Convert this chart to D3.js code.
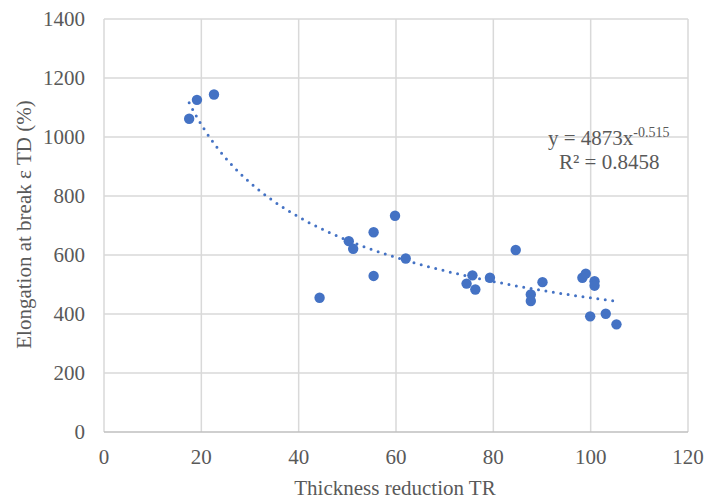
<!DOCTYPE html>
<html><head><meta charset="utf-8">
<script src="https://cdn.jsdelivr.net/npm/d3@7"></script>
<style>body{margin:0;background:#fff}svg{display:block}</style>
</head><body>
<svg id="c" width="705" height="502"></svg>
<script>
const xValues = [17.5,19.1,22.6,44.3,50.3,51.2,55.4,55.4,59.8,62.0,74.5,75.7,76.3,79.3,84.6,87.7,87.7,90.1,98.3,99.0,100.8,100.8,99.9,103.1,105.3];
const yValues = [1062,1126,1144,455,647,621,677,529,733,588,503,531,483,523,617,466,444,508,523,537,511,496,392,401,365];
const xTicks = [0,20,40,60,80,100,120];
const yTicks = [0,200,400,600,800,1000,1200,1400];
const fitA = 4873, fitB = -0.515;
const fitRange = [17.5, 104.7];
const eqText = "y = 4873x", eqExp = "-0.515", r2Text = "R² = 0.8458";

const svg = d3.select("#c");
const L = 104, R = 688, T = 19, B = 432;
const x = d3.scaleLinear().domain([0,120]).range([L,R]);
const y = d3.scaleLinear().domain([0,1400]).range([B,T]);
const font = "'Liberation Serif','Times New Roman',serif";
const grey = "#595959";
const fs = 21;

const g = svg.append("g");
g.selectAll(".hg").data(yTicks.filter(d=>d>0)).join("line")
  .attr("x1",L).attr("x2",R).attr("y1",d=>y(d)).attr("y2",d=>y(d))
  .attr("stroke","#d9d9d9").attr("stroke-width",1.5);
g.selectAll(".vg").data(xTicks).join("line")
  .attr("y1",T).attr("y2",B).attr("x1",d=>x(d)).attr("x2",d=>x(d))
  .attr("stroke","#d9d9d9").attr("stroke-width",1.5);
g.append("line").attr("x1",L).attr("x2",R).attr("y1",y(0)).attr("y2",y(0))
  .attr("stroke","#bfbfbf").attr("stroke-width",1.5);

g.selectAll(".yt").data(yTicks).join("text")
  .attr("x",L-19).attr("y",d=>y(d)).attr("dy","0.35em")
  .attr("text-anchor","end").attr("font-family",font).attr("font-size",fs).attr("fill",grey)
  .text(d=>d);
g.selectAll(".xt").data(xTicks).join("text")
  .attr("x",d=>x(d)).attr("y",B+25).attr("dy","0.35em")
  .attr("text-anchor","middle").attr("font-family",font).attr("font-size",fs).attr("fill",grey)
  .text(d=>d);

svg.append("text").attr("x",(L+R)/2-1).attr("y",495)
  .attr("text-anchor","middle").attr("font-family",font).attr("font-size",fs).attr("fill",grey)
  .text("Thickness reduction TR");
svg.append("text").attr("transform",`translate(31,${(T+B)/2-1}) rotate(-90)`)
  .attr("text-anchor","middle").attr("font-family",font).attr("font-size",fs).attr("fill",grey)
  .text("Elongation at break ε TD (%)");

// trendline
const fitPts = d3.range(0,101).map(i=>{const xv=fitRange[0]+(fitRange[1]-fitRange[0])*i/100; return [xv, fitA*Math.pow(xv,fitB)];});
svg.append("path").attr("d", d3.line().x(d=>x(d[0])).y(d=>y(d[1]))(fitPts))
  .attr("fill","none").attr("stroke","#4472C4").attr("stroke-width",3)
  .attr("stroke-linecap","round").attr("stroke-dasharray","0 7.5");

svg.selectAll(".pt").data(xValues.map((v,i)=>[v,yValues[i]])).join("circle")
  .attr("cx",d=>x(d[0])).attr("cy",d=>y(d[1])).attr("r",5.2)
  .attr("fill","#4472C4");

const eq = svg.append("text").attr("x",548).attr("y",145)
  .attr("font-family",font).attr("font-size",fs).attr("fill",grey);
eq.append("tspan").text(eqText);
eq.append("tspan").attr("dy",-8).attr("font-size",14).text(eqExp);
svg.append("text").attr("x",559).attr("y",169)
  .attr("font-family",font).attr("font-size",fs).attr("fill",grey).text(r2Text);
</script>
</body></html>
